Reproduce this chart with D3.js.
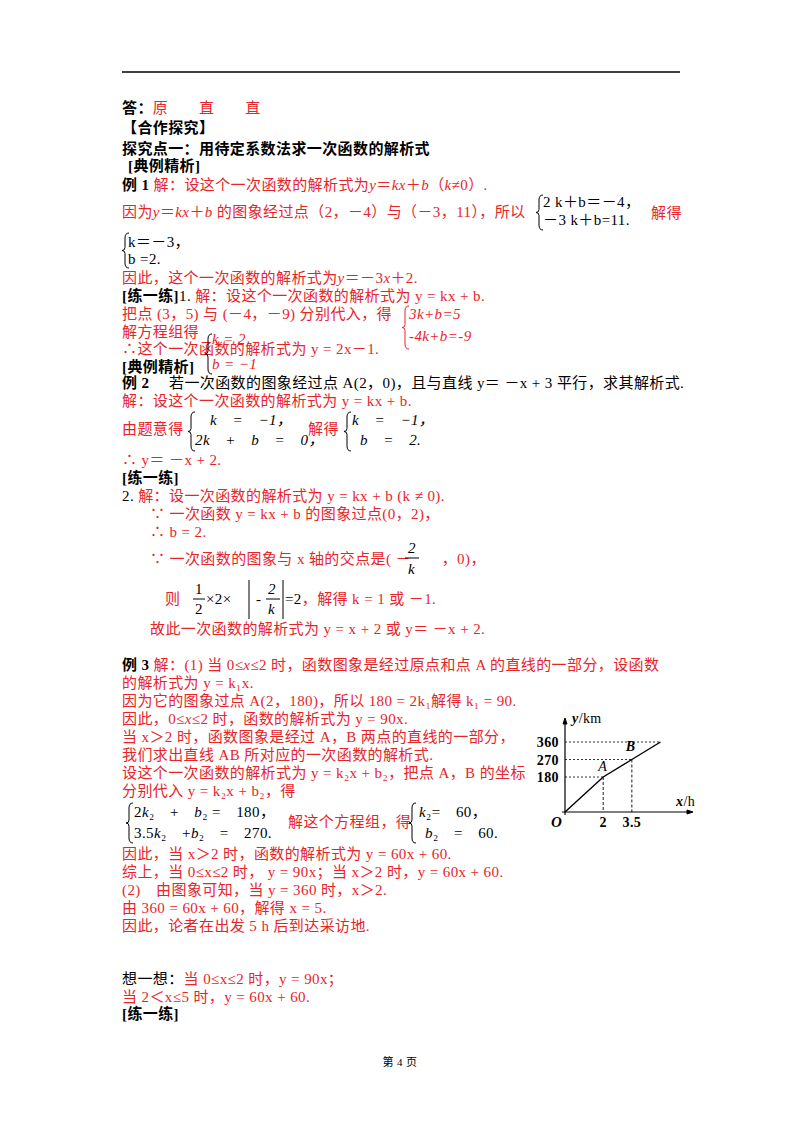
<!DOCTYPE html>
<html><head><meta charset="utf-8">
<script src="https://cdn.jsdelivr.net/npm/d3@7"></script>
<style>body{margin:0;background:#fff}svg{display:block}text{font-family:"Liberation Serif","Noto Sans CJK SC",serif;font-size:15px;letter-spacing:0.4px}</style>
</head><body><svg id="page" width="800" height="1132"></svg>
<script>
// chart data (distance vs time)
var timeH = [0, 2, 3.5, 5];
var distKm = [0, 180, 270, 360];
var xTicks = ["2", "3.5"];
var yTicks = [180, 270, 360];

var R = "#e8242b", K = "#000";
var svg = d3.select("#page");

// page text: [x, y, [[text, color, weight, style], ...]]
var lines = [
 [122,113,[["答：",K,"bold"],["原　　直　　直",R]]],
 [122,133,[["【合作探究】",K,"bold"]]],
 [122,154,[["探究点一：用待定系数法求一次函数的解析式",K,"bold"]]],
 [128,171,[["[典例精析]",K,"bold"]]],
 [122,190,[["例 1 ",K,"bold"],["解：设这个一次函数的解析式为",R],["y",R,null,"italic"],["＝",R],["kx",R,null,"italic"],["＋",R],["b",R,null,"italic"],["（",R],["k",R,null,"italic"],["≠0）.",R]]],
 [122,217,[["因为",R],["y",R,null,"italic"],["＝",R],["kx",R,null,"italic"],["＋",R],["b",R,null,"italic"],[" 的图象经过点（2，－4）与（－3，11），所以",R]]],
 [543,207,[["2 k＋b＝－4，",K]]],
 [543,225,[["－3 k＋b=11.",K]]],
 [651,218,[["解得",R]]],
 [128,247,[["k＝－3，",K]]],
 [128,264,[["b =2.",K]]],
 [122,283,[["因此，这个一次函数的解析式为",R],["y",R,null,"italic"],["＝－3",R],["x",R,null,"italic"],["＋2.",R]]],
 [122,301,[["[练一练]",K,"bold"],["1.",K],[" 解：设这个一次函数的解析式为  y = kx + b.",R]]],
 [122,319,[["把点 (3，5) 与 (－4，－9) 分别代入，得",R]]],
 [409,319,[["3k+b=5",R,null,"italic"]]],
 [409,341,[["-4k+b=-9",R,null,"italic"]]],
 [122,337,[["解方程组得",R]]],
 [122,354,[["∴这个一次函数的解析式为  y = 2x－1.",R]]],
 [212,344,[["k = 2",R,null,"italic"]]],
 [212,369,[["b = −1",R,null,"italic"]]],
 [122,372,[["[典例精析]",K,"bold"]]],
 [122,388,[["例 2",K,"bold"],["　 若一次函数的图象经过点 A(2，0)，且与直线 y＝ －x + 3  平行，求其解析式.",K]]],
 [122,406,[["解：设这个一次函数的解析式为  y = kx + b.",R]]],
 [122,434,[["由题意得",R]]],
 [210,425,[["k　=　−1，",K,null,"italic"]]],
 [195,445,[["2k　+　b　=　0，",K,null,"italic"]]],
 [308,434,[["解得",R]]],
 [352,425,[["k　=　−1，",K,null,"italic"]]],
 [360,445,[["b　=　2.",K,null,"italic"]]],
 [122,465,[["∴ y＝ －x + 2.",R]]],
 [122,483,[["[练一练]",K,"bold"]]],
 [122,501,[["2. ",K],["解：设一次函数的解析式为  y = kx + b (k ≠ 0).",R]]],
 [150,519,[["∵ 一次函数  y = kx + b  的图象过点(0，2)，",R]]],
 [150,537,[["∴ b = 2.",R]]],
 [150,564,[["∵ 一次函数的图象与  x  轴的交点是(  －　　，0)，",R]]],
 [408,553,[["2",K,null,"italic"]]],
 [408,574,[["k",K,null,"italic"]]],
 [165,604,[["则",R]]],
 [195,594,[["1",K]]],[195,614,[["2",K]]],
 [206,604,[["×2×",K]]],
 [256,604,[["-",K]]],[268,594,[["2",K,null,"italic"]]],[268,614,[["k",K,null,"italic"]]],
 [285,604,[["=2",K],["，解得  k = 1  或  －1.",R]]],
 [150,634,[["故此一次函数的解析式为  y = x + 2  或  y＝ －x + 2.",R]]],
 [122,670,[["例 3",K,"bold"],[" 解：(1) 当  0≤",R],["x",R,null,"italic"],["≤2  时，函数图象是经过原点和点  A  的直线的一部分，设函数",R]]],
 [122,688,[["的解析式为  y = k₁x.",R]]],
 [122,706,[["因为它的图象过点  A(2，180)，所以  180 = 2k₁解得  k₁ = 90.",R]]],
 [122,724,[["因此，0≤",R],["x",R,null,"italic"],["≤2  时，函数的解析式为  y = 90x.",R]]],
 [122,742,[["当  x＞2  时，函数图象是经过  A，B 两点的直线的一部分，",R]]],
 [122,760,[["我们求出直线  AB  所对应的一次函数的解析式.",R]]],
 [122,778,[["设这个一次函数的解析式为  y = k₂x + b₂，把点  A，B  的坐标",R]]],
 [122,796,[["分别代入  y = k₂x + b₂，得",R]]],
 [134,817,[["2",K],["k",K,null,"italic"],["₂　+　",K],["b",K,null,"italic"],["₂ =　180，",K]]],
 [134,838,[["3.5",K],["k",K,null,"italic"],["₂　+",K],["b",K,null,"italic"],["₂　=　270.",K]]],
 [288,827,[["解这个方程组，得",R]]],
 [419,817,[["k",K,null,"italic"],["₂=　60，",K]]],
 [425,838,[["b",K,null,"italic"],["₂　=　60.",K]]],
 [122,859,[["因此，当  x＞2  时，函数的解析式为  y = 60x + 60.",R]]],
 [122,877,[["综上，当  0≤x≤2  时，  y = 90x；当  x＞2  时，y = 60x + 60.",R]]],
 [122,895,[["(2)　由图象可知，当  y = 360  时，x＞2.",R]]],
 [122,913,[["由  360 = 60x + 60，解得  x = 5.",R]]],
 [122,931,[["因此，论者在出发  5 h  后到达采访地.",R]]],
 [122,984,[["想一想：",K],["当  0≤x≤2  时，y = 90x；",R]]],
 [122,1002,[["当  2＜x≤5  时，y = 60x + 60.",R]]],
 [122,1019,[["[练一练]",K,"bold"]]]
];

svg.append("line").attr("x1",122).attr("x2",680).attr("y1",72).attr("y2",72).attr("stroke","#000").attr("stroke-width",1.3);

lines.forEach(function(l){
  var t = svg.append("text").attr("x",l[0]).attr("y",l[1]);
  l[2].forEach(function(s){
    t.append("tspan").text(s[0]).attr("fill",s[1])
     .attr("font-weight",s[2]||null).attr("font-style",s[3]||null);
  });
});
svg.append("text").attr("x",400).attr("y",1066).attr("text-anchor","middle").style("font-size","11px").text("第 4 页");

// braces, fraction bars, abs bars
function brace(x,y1,y2,c){
  var m=(y1+y2)/2;
  svg.append("path").attr("fill","none").attr("stroke",c).attr("stroke-width",1)
   .attr("d","M"+(x+4)+","+y1+" Q"+x+","+y1+" "+x+","+(y1+5)+" L"+x+","+(m-3)+" Q"+x+","+m+" "+(x-3)+","+m+" Q"+x+","+m+" "+x+","+(m+3)+" L"+x+","+(y2-5)+" Q"+x+","+y2+" "+(x+4)+","+y2);
}
brace(539,195,230,K); brace(125,233,268,K); brace(405,306,349,R); brace(208,334,374,K);
brace(191,412,451,K); brace(347,412,451,K); brace(129,803,843,K); brace(412,803,843,K);
[[405,419,558],[193,205,599],[266,280,599]].forEach(function(f){
  svg.append("line").attr("x1",f[0]).attr("x2",f[1]).attr("y1",f[2]).attr("y2",f[2]).attr("stroke","#000");
});
[[249,580,619],[283,580,619]].forEach(function(f){
  svg.append("line").attr("x1",f[0]).attr("x2",f[0]).attr("y1",f[1]).attr("y2",f[2]).attr("stroke","#000");
});

// chart
var ox = 565, oy = 812;
var x = d3.scaleLinear().domain([0,5]).range([ox, ox+95.5]);
var y = d3.scaleLinear().domain([0,360]).range([oy, oy-70]);
var g = svg.append("g").attr("stroke","#000");
g.append("line").attr("x1",ox-3).attr("x2",690).attr("y1",oy).attr("y2",oy).attr("stroke-width",1.2);
g.append("line").attr("x1",ox).attr("x2",ox).attr("y1",oy+3).attr("y2",721).attr("stroke-width",1.2);
g.append("path").attr("d","M"+ox+",718 l-2,6 l4,0z").attr("fill","#000");
g.append("path").attr("d","M693,"+oy+" l-6,-2 l0,4z").attr("fill","#000");
yTicks.forEach(function(v){
  var idx = distKm.indexOf(v);
  g.append("line").attr("x1",ox).attr("x2",x(timeH[idx])).attr("y1",y(v)).attr("y2",y(v)).attr("stroke-dasharray","2,2").attr("stroke-width",0.8);
  svg.append("text").attr("x",ox-6).attr("y",y(v)+5).attr("text-anchor","end").attr("font-weight","bold").style("font-size","14px").text(v);
});
xTicks.forEach(function(s){
  var v=+s, idx=timeH.indexOf(v);
  g.append("line").attr("x1",x(v)).attr("x2",x(v)).attr("y1",y(distKm[idx])).attr("y2",oy).attr("stroke-dasharray","3,2").attr("stroke-width",0.9);
  svg.append("text").attr("x",x(v)).attr("y",oy+15).attr("text-anchor","middle").attr("font-weight","bold").style("font-size","14px").text(s);
});
g.append("path").datum(timeH.map(function(t,i){return [t,distKm[i]];}))
 .attr("fill","none").attr("stroke-width",1.4)
 .attr("d",d3.line().x(function(d){return x(d[0]);}).y(function(d){return y(d[1]);}));
svg.append("text").attr("x",ox-14).attr("y",oy+15).attr("font-weight","bold").attr("font-style","italic").text("O");
svg.append("text").attr("x",x(2)-5).attr("y",y(180)-6).attr("font-style","italic").style("font-size","14px").text("A");
svg.append("text").attr("x",x(3.5)-6).attr("y",y(270)-9).attr("font-weight","bold").attr("font-style","italic").style("font-size","14px").text("B");
var yl = svg.append("text").attr("x",572).attr("y",723).style("font-size","14px");
yl.append("tspan").attr("font-weight","bold").attr("font-style","italic").text("y");
yl.append("tspan").text("/km");
var xl = svg.append("text").attr("x",676).attr("y",806).style("font-size","14px");
xl.append("tspan").attr("font-weight","bold").attr("font-style","italic").text("x");
xl.append("tspan").text("/h");
</script></body></html>
